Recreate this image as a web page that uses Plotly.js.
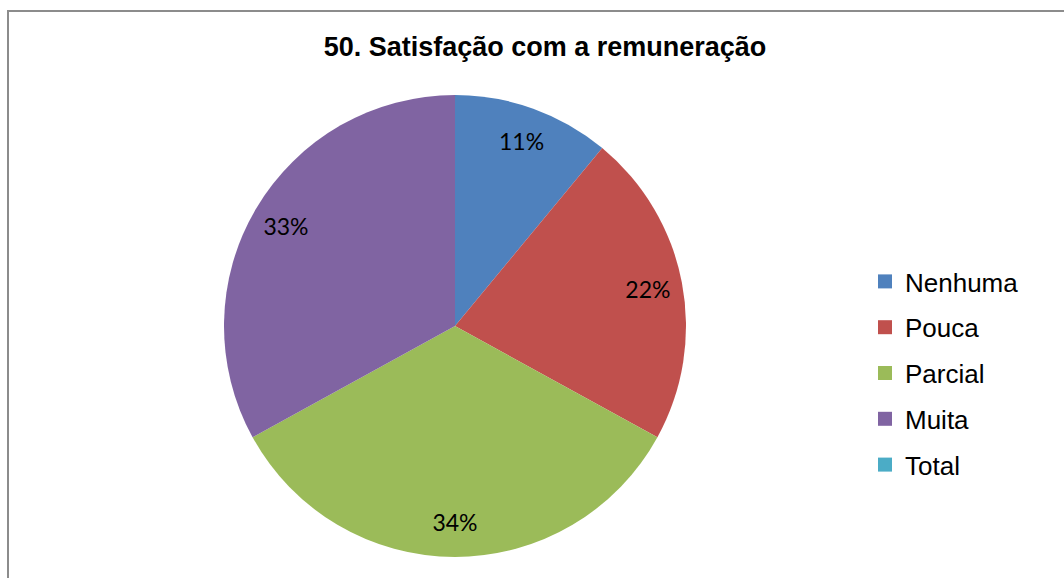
<!DOCTYPE html>
<html>
<head>
<meta charset="utf-8">
<script src="https://cdn.plot.ly/plotly-3.0.1.min.js"></script>
<style>
  html, body { margin: 0; padding: 0; background: #fff; overflow: hidden; }
  #wrap { position: relative; width: 1064px; height: 578px; }
  #chart { position: absolute; left: 0; top: 0; width: 1064px; height: 578px; }
  #frame { position: absolute; left: 7px; top: 10px; width: 1100px; height: 600px;
           border: 2px solid #8c8c8c; pointer-events: none; box-sizing: border-box; }
</style>
</head>
<body>
<div id="wrap">
  <div id="chart"></div>
  <div id="frame"></div>
</div>
<script>
const categories = ["Nenhuma", "Pouca", "Parcial", "Muita", "Total"];
const values = [11, 22, 34, 33, 0];
const colors = ["#4F81BD", "#C0504D", "#9BBB59", "#8064A2", "#4BACC6"];
const labelText = values.map(v => v > 0 ? v + "%" : "");

const W = 1064, H = 578;
const cx = 455, cy = 326, r = 231;
const dom = { x: [(cx - r) / W, (cx + r) / W], y: [1 - (cy + r) / H, 1 - (cy - r) / H] };

const pie = {
  type: "pie",
  labels: categories,
  values: values,
  textinfo: "none",
  hoverinfo: "label+percent",
  sort: false,
  direction: "clockwise",
  rotation: 0,
  marker: { colors: colors, line: { width: 0 } },
  showlegend: false,
  domain: dom
};

// transparent ring carrying the data labels near the outer edge
const labelRing = {
  type: "pie",
  labels: categories,
  values: values,
  text: labelText,
  textinfo: "text",
  hoverinfo: "skip",
  sort: false,
  direction: "clockwise",
  rotation: 0,
  hole: 0.7,
  marker: { colors: categories.map(() => "rgba(0,0,0,0)"), line: { width: 0 } },
  textposition: "inside",
  insidetextorientation: "horizontal",
  textfont: { family: "Lato", size: 23, color: "#000" },
  showlegend: false,
  domain: dom
};

const legendTraces = categories.map((c, i) => ({
  type: "scatter",
  mode: "markers",
  x: [null], y: [null],
  name: c,
  legendgroup: "g" + i,
  marker: { symbol: "square", size: 14, color: colors[i] },
  hoverinfo: "skip",
  showlegend: true
}));

const layout = {
  width: W, height: H,
  margin: { l: 0, r: 0, t: 0, b: 0 },
  paper_bgcolor: "#fff",
  plot_bgcolor: "#fff",
  title: {
    text: "<b>50. Satisfação com a remuneração</b>",
    font: { family: "'Liberation Sans', Arial, sans-serif", size: 27, color: "#000" },
    x: 545 / W, xanchor: "center",
    y: 1 - 47 / H, yanchor: "middle"
  },
  xaxis: { visible: false },
  yaxis: { visible: false },
  showlegend: true,
  legend: {
    x: 865 / W, xanchor: "left",
    y: 1 - 258 / H, yanchor: "top",
    traceorder: "grouped",
    tracegroupgap: 9,
    font: { family: "'Liberation Sans', Arial, sans-serif", size: 26, color: "#000" },
    bgcolor: "rgba(0,0,0,0)",
    itemclick: false, itemdoubleclick: false
  }
};

Plotly.newPlot("chart", [pie, labelRing].concat(legendTraces), layout, { displayModeBar: false, staticPlot: true });
</script>
</body>
</html>
